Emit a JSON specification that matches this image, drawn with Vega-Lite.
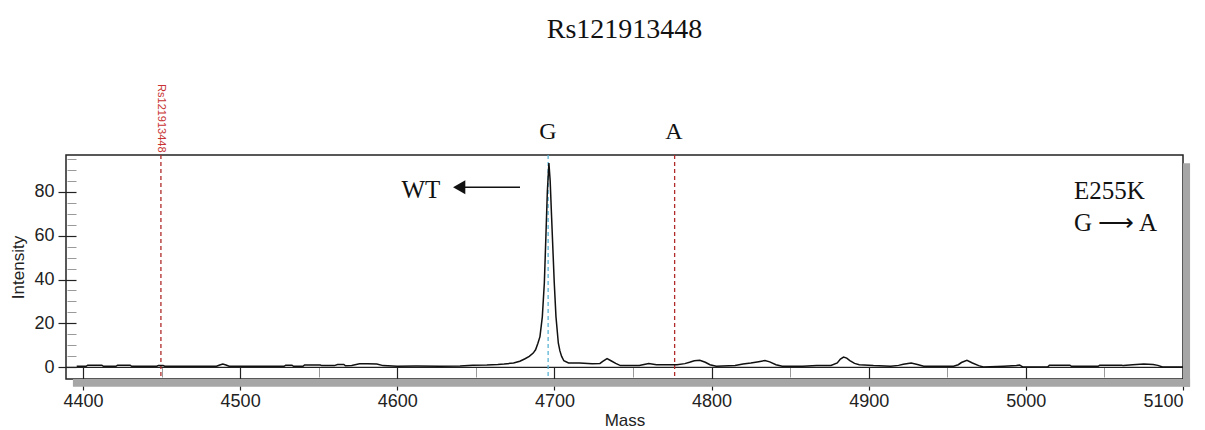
{
  "$schema": "https://vega.github.io/schema/vega-lite/v6.json",
  "width": 1117,
  "height": 224,
  "autosize": {"type": "none"},
  "padding": {"left": 66, "top": 155, "right": 22, "bottom": 51},
  "background": "white",
  "title": {"text": "Rs121913448", "font": "Liberation Serif", "fontSize": 28, "fontWeight": "normal", "color": "#111111", "anchor": "middle", "frame": "group", "offset": 40},
  "config": {
    "view": {"stroke": "#222222", "strokeWidth": 1.5},
    "axis": {"grid": false, "labelFont": "Liberation Sans", "titleFont": "Liberation Sans", "labelFontSize": 18, "titleFontSize": 17, "titleFontWeight": "normal", "labelColor": "#222222", "titleColor": "#222222", "tickColor": "#222222", "domain": false}
  },
  "datasets": {
    "one": [{"row": 1}],
    "spectrum": [
      {"mass": 4396, "intensity": 0.5}, {"mass": 4402, "intensity": 0.5}, {"mass": 4403, "intensity": 1.0}, {"mass": 4412, "intensity": 1.0},
      {"mass": 4413, "intensity": 0.5}, {"mass": 4421, "intensity": 0.5}, {"mass": 4422, "intensity": 1.0}, {"mass": 4430, "intensity": 1.0},
      {"mass": 4431, "intensity": 0.5}, {"mass": 4447, "intensity": 0.5}, {"mass": 4448, "intensity": 0.9}, {"mass": 4451, "intensity": 0.9},
      {"mass": 4452, "intensity": 0.5}, {"mass": 4485, "intensity": 0.5}, {"mass": 4487, "intensity": 1.1}, {"mass": 4489, "intensity": 1.5},
      {"mass": 4491, "intensity": 1.1}, {"mass": 4493, "intensity": 0.5}, {"mass": 4528, "intensity": 0.5}, {"mass": 4529, "intensity": 1.0},
      {"mass": 4533, "intensity": 1.0}, {"mass": 4534, "intensity": 0.5}, {"mass": 4540, "intensity": 0.5}, {"mass": 4541, "intensity": 1.1},
      {"mass": 4551, "intensity": 1.1}, {"mass": 4552, "intensity": 0.8}, {"mass": 4560, "intensity": 0.8}, {"mass": 4562, "intensity": 1.3},
      {"mass": 4566, "intensity": 1.3}, {"mass": 4567, "intensity": 0.7}, {"mass": 4571, "intensity": 0.9}, {"mass": 4576, "intensity": 1.6},
      {"mass": 4581, "intensity": 1.6}, {"mass": 4587, "intensity": 1.5}, {"mass": 4591, "intensity": 0.8}, {"mass": 4600, "intensity": 0.5},
      {"mass": 4612, "intensity": 0.6}, {"mass": 4627, "intensity": 0.5}, {"mass": 4640, "intensity": 0.6}, {"mass": 4648, "intensity": 1.0},
      {"mass": 4657, "intensity": 1.1}, {"mass": 4664, "intensity": 1.3}, {"mass": 4668, "intensity": 1.5}, {"mass": 4674, "intensity": 2.0},
      {"mass": 4678, "intensity": 2.8}, {"mass": 4681, "intensity": 3.8}, {"mass": 4684, "intensity": 5.0}, {"mass": 4686.5, "intensity": 6.5},
      {"mass": 4688, "intensity": 8}, {"mass": 4689.5, "intensity": 11}, {"mass": 4690.8, "intensity": 14}, {"mass": 4692.3, "intensity": 23},
      {"mass": 4693.6, "intensity": 38.5}, {"mass": 4694.6, "intensity": 60}, {"mass": 4695.5, "intensity": 80}, {"mass": 4696.5, "intensity": 93},
      {"mass": 4697.3, "intensity": 85}, {"mass": 4698.2, "intensity": 68.6}, {"mass": 4699.9, "intensity": 38.5}, {"mass": 4701, "intensity": 23},
      {"mass": 4702.5, "intensity": 11}, {"mass": 4703.5, "intensity": 7.5}, {"mass": 4704.6, "intensity": 5}, {"mass": 4706, "intensity": 3},
      {"mass": 4709, "intensity": 2.0}, {"mass": 4716, "intensity": 2.0}, {"mass": 4724, "intensity": 1.7}, {"mass": 4729, "intensity": 1.8},
      {"mass": 4731, "intensity": 2.8}, {"mass": 4733.5, "intensity": 4.0}, {"mass": 4736, "intensity": 3.0}, {"mass": 4739, "intensity": 1.8},
      {"mass": 4742, "intensity": 0.8}, {"mass": 4754, "intensity": 0.8}, {"mass": 4757, "intensity": 1.3}, {"mass": 4760, "intensity": 1.7},
      {"mass": 4765, "intensity": 1.2}, {"mass": 4778, "intensity": 1.2}, {"mass": 4783, "intensity": 1.7}, {"mass": 4786, "intensity": 2.3},
      {"mass": 4789, "intensity": 3.0}, {"mass": 4792.5, "intensity": 3.2}, {"mass": 4796, "intensity": 2.3}, {"mass": 4799, "intensity": 1.2},
      {"mass": 4803, "intensity": 0.5}, {"mass": 4815, "intensity": 0.8}, {"mass": 4820, "intensity": 1.5}, {"mass": 4825, "intensity": 2.0},
      {"mass": 4830, "intensity": 2.6}, {"mass": 4834, "intensity": 3.1}, {"mass": 4837, "intensity": 2.5}, {"mass": 4841, "intensity": 1.2},
      {"mass": 4845, "intensity": 0.5}, {"mass": 4858, "intensity": 0.5}, {"mass": 4867, "intensity": 0.8}, {"mass": 4876, "intensity": 0.9},
      {"mass": 4880, "intensity": 2.0}, {"mass": 4882, "intensity": 3.8}, {"mass": 4884, "intensity": 4.7}, {"mass": 4886, "intensity": 4.2},
      {"mass": 4888, "intensity": 3.1}, {"mass": 4891, "intensity": 1.8}, {"mass": 4894, "intensity": 1.2}, {"mass": 4903, "intensity": 0.8},
      {"mass": 4914, "intensity": 0.5}, {"mass": 4919, "intensity": 0.9}, {"mass": 4922, "intensity": 1.4}, {"mass": 4927, "intensity": 2.0},
      {"mass": 4931, "intensity": 1.3}, {"mass": 4935, "intensity": 0.5}, {"mass": 4954, "intensity": 0.5}, {"mass": 4957, "intensity": 1.2},
      {"mass": 4959, "intensity": 2.2}, {"mass": 4962.5, "intensity": 3.2}, {"mass": 4966, "intensity": 2.0}, {"mass": 4970, "intensity": 0.8},
      {"mass": 4973, "intensity": 0.2}, {"mass": 4986, "intensity": 0.5}, {"mass": 4994, "intensity": 0.8}, {"mass": 4996, "intensity": 1.1},
      {"mass": 4998, "intensity": 0.2}, {"mass": 5014, "intensity": 0.3}, {"mass": 5015, "intensity": 1.0}, {"mass": 5028, "intensity": 1.0},
      {"mass": 5029, "intensity": 0.5}, {"mass": 5046, "intensity": 0.5}, {"mass": 5047, "intensity": 1.0}, {"mass": 5061, "intensity": 1.0},
      {"mass": 5062, "intensity": 0.8}, {"mass": 5068, "intensity": 1.2}, {"mass": 5075, "intensity": 1.5}, {"mass": 5081, "intensity": 1.3},
      {"mass": 5084, "intensity": 0.9}, {"mass": 5087, "intensity": 0.2}, {"mass": 5100, "intensity": 0.2}
    ],
    "markers": [
      {"mass": 4449.6, "kind": "Rs121913448"},
      {"mass": 4696, "kind": "G"},
      {"mass": 4776.5, "kind": "A"}
    ],
    "centerLabels": [
      {"mass": 4695.8, "intensity": 103.8, "label": "G"},
      {"mass": 4776.1, "intensity": 103.8, "label": "A"}
    ],
    "leftLabels": [
      {"mass": 4602.7, "intensity": 77.1, "label": "WT"},
      {"mass": 5030.6, "intensity": 76.5, "label": "E255K"},
      {"mass": 5030.6, "intensity": 62.3, "label": "G ⟶ A"}
    ],
    "snpLabel": [
      {"mass": 4449.6, "intensity": 129, "label": "Rs121913448"}
    ],
    "arrow": [
      {"from": 4678.1, "to": 4643.7, "tip": 4639.4, "intensity": 82}
    ]
  },
  "layer": [
    {
      "data": {"name": "one"},
      "mark": {"type": "rect", "color": "#a6a6a6", "opacity": 1},
      "encoding": {
        "x": {"datum": 4393.6, "type": "quantitative", "scale": {"domain": [4389.2, 5100], "nice": false, "zero": false}, "axis": null},
        "x2": {"datum": 5104.5},
        "y": {"datum": -5.3, "type": "quantitative", "scale": {"domain": [-5.3, 96.7], "nice": false, "zero": false}, "axis": null},
        "y2": {"datum": -8.8}
      }
    },
    {
      "data": {"name": "one"},
      "mark": {"type": "rect", "color": "#a6a6a6", "opacity": 1},
      "encoding": {
        "x": {"datum": 5100, "type": "quantitative", "scale": {"domain": [4389.2, 5100], "nice": false, "zero": false}, "axis": null},
        "x2": {"datum": 5104.5},
        "y": {"datum": 93, "type": "quantitative", "scale": {"domain": [-5.3, 96.7], "nice": false, "zero": false}, "axis": null},
        "y2": {"datum": -8.8}
      }
    },
    {
      "data": {"name": "one"},
      "mark": {"type": "rule", "color": "#222222", "strokeWidth": 1.3},
      "encoding": {
        "y": {"datum": 0, "type": "quantitative", "scale": {"domain": [-5.3, 96.7], "nice": false, "zero": false}, "axis": null}
      }
    },
    {
      "data": {"name": "markers"},
      "mark": {"type": "rule", "strokeWidth": 1.3, "strokeDash": [4, 3]},
      "encoding": {
        "x": {"field": "mass", "type": "quantitative", "scale": {"domain": [4389.2, 5100], "nice": false, "zero": false}, "axis": null},
        "color": {"field": "kind", "type": "nominal", "scale": {"domain": ["Rs121913448", "G", "A"], "range": ["#b02a2a", "#5ab4d6", "#b02a2a"]}, "legend": null}
      }
    },
    {
      "data": {"name": "spectrum"},
      "mark": {"type": "line", "color": "#111111", "strokeWidth": 1.5, "interpolate": "linear"},
      "encoding": {
        "x": {"field": "mass", "type": "quantitative", "scale": {"domain": [4389.2, 5100], "nice": false, "zero": false},
              "axis": {"orient": "bottom", "values": [4400, 4500, 4600, 4700, 4800, 4900, 5000, 5100], "format": "d", "offset": -12, "tickSize": 23, "tickWidth": 1.2, "labelPadding": 2, "title": "Mass", "titlePadding": 2}},
        "y": {"field": "intensity", "type": "quantitative", "scale": {"domain": [-5.3, 96.7], "nice": false, "zero": false},
              "axis": {"orient": "left", "values": [0, 20, 40, 60, 80], "format": "d", "offset": -10, "tickSize": 18, "tickWidth": 1.2, "labelPadding": 4, "title": "Intensity", "titlePadding": 6}}
      }
    },
    {
      "data": {"name": "centerLabels"},
      "mark": {"type": "text", "font": "Liberation Serif", "fontSize": 24, "color": "#111111", "align": "center", "baseline": "alphabetic"},
      "encoding": {
        "x": {"field": "mass", "type": "quantitative", "scale": {"domain": [4389.2, 5100], "nice": false, "zero": false},
              "axis": {"orient": "bottom", "values": [4450, 4550, 4650, 4750, 4850, 4950, 5050], "offset": -12, "tickSize": 10, "tickColor": "#9a9a9a", "labels": false, "title": null}},
        "y": {"field": "intensity", "type": "quantitative", "scale": {"domain": [-5.3, 96.7], "nice": false, "zero": false},
              "axis": {"orient": "left", "values": [5, 10, 15, 25, 30, 35, 45, 50, 55, 65, 70, 75, 85, 90, 95], "offset": -10, "tickSize": 9, "tickColor": "#9a9a9a", "labels": false, "title": null}},
        "text": {"field": "label"}
      }
    },
    {
      "data": {"name": "leftLabels"},
      "mark": {"type": "text", "font": "Liberation Serif", "fontSize": 25, "color": "#111111", "align": "left", "baseline": "alphabetic"},
      "encoding": {
        "x": {"field": "mass", "type": "quantitative", "scale": {"domain": [4389.2, 5100], "nice": false, "zero": false}, "axis": null},
        "y": {"field": "intensity", "type": "quantitative", "scale": {"domain": [-5.3, 96.7], "nice": false, "zero": false}, "axis": null},
        "text": {"field": "label"}
      }
    },
    {
      "data": {"name": "snpLabel"},
      "mark": {"type": "text", "font": "Liberation Sans", "fontSize": 11, "color": "#c83232", "align": "left", "baseline": "middle", "angle": 90},
      "encoding": {
        "x": {"field": "mass", "type": "quantitative", "scale": {"domain": [4389.2, 5100], "nice": false, "zero": false}, "axis": null},
        "y": {"field": "intensity", "type": "quantitative", "scale": {"domain": [-5.3, 96.7], "nice": false, "zero": false}, "axis": null},
        "text": {"field": "label"}
      }
    },
    {
      "data": {"name": "arrow"},
      "mark": {"type": "rule", "color": "#111111", "strokeWidth": 1.5},
      "encoding": {
        "x": {"field": "from", "type": "quantitative", "scale": {"domain": [4389.2, 5100], "nice": false, "zero": false}, "axis": null},
        "x2": {"field": "tip"},
        "y": {"field": "intensity", "type": "quantitative", "scale": {"domain": [-5.3, 96.7], "nice": false, "zero": false}, "axis": null}
      }
    },
    {
      "data": {"name": "arrow"},
      "mark": {"type": "point", "shape": "triangle-left", "filled": true, "color": "#111111", "size": 200, "opacity": 1},
      "encoding": {
        "x": {"field": "tip", "type": "quantitative", "scale": {"domain": [4389.2, 5100], "nice": false, "zero": false}, "axis": null},
        "y": {"field": "intensity", "type": "quantitative", "scale": {"domain": [-5.3, 96.7], "nice": false, "zero": false}, "axis": null}
      }
    }
  ],
  "resolve": {"axis": {"x": "independent", "y": "independent"}}
}
